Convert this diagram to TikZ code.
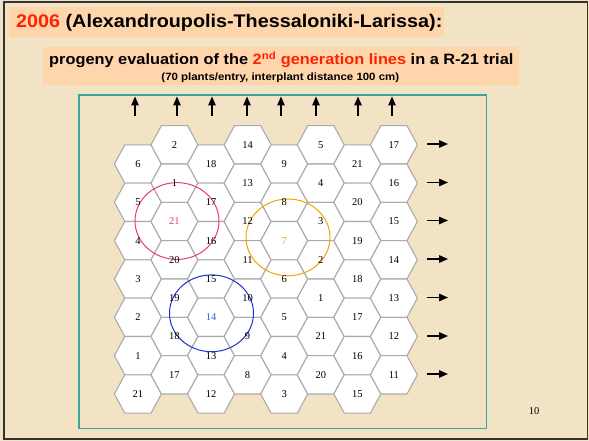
\documentclass[tikz,border=0pt]{standalone}
\usepackage{fontspec}
\setmainfont{Liberation Serif}
\newfontfamily\arialf{Liberation Sans}[FakeStretch=1.08]
\newfontfamily\arials{Liberation Sans}[FakeStretch=1.09]
\usetikzlibrary{arrows.meta}
\definecolor{bg}{HTML}{F3E3C5}
\definecolor{peach}{HTML}{FFD5AC}
\definecolor{titlered}{HTML}{FF2200}
\definecolor{tealc}{HTML}{3CA59B}
\definecolor{hexgray}{HTML}{ABABAB}
\definecolor{pinkc}{HTML}{EE3A78}
\definecolor{orangec}{HTML}{F7AA10}
\definecolor{orangec}{HTML}{F5A300}
\definecolor{bluec}{HTML}{1E2ED0}
\definecolor{bluet}{HTML}{3A5BE0}
\definecolor{framec}{HTML}{333333}
\begin{document}
\begin{tikzpicture}[x=1pt,y=-1pt,
  hexcell/.style={fill=white,draw=hexgray,line width=1.1pt,line join=miter},
  hexlab/.style={font=\fontsize{10.5}{12}\selectfont,inner sep=0pt},
  arr/.style={line width=1.4pt,-{Triangle[length=9pt,width=7.5pt]}},
  ring/.style={line width=1pt}]
\fill[bg] (0,0) rectangle (589,441);
\useasboundingbox (0,0) rectangle (589,441);
\draw[framec,line width=1.2pt] (4,2) rectangle (587.5,439);
% title
\fill[peach] (9.3,7.3) rectangle (444,36.7);
\node[anchor=base west,inner sep=0pt,font=\arialf\bfseries\fontsize{18.3}{21}\selectfont] (title) at (16,27.7)
  {\textcolor{titlered}{2006} (Alexandroupolis-Thessaloniki-Larissa):};
\fill[peach] (42.7,46.7) rectangle (519.3,85);
\node[anchor=base,inner sep=0pt,font=\arials\bfseries\fontsize{15}{18}\selectfont] (sub1) at (281.3,65)
  {progeny evaluation of the \textcolor{titlered}{2\textsuperscript{nd} generation lines} in a R-21 trial};
\node[anchor=base,inner sep=0pt,font=\arials\bfseries\fontsize{10.5}{12}\selectfont] (sub2) at (280.3,80.5)
  {(70 plants/entry, interplant distance 100 cm)};
% teal frame
\draw[tealc,line width=1.5pt] (79,95) rectangle (486.7,428.3);
% hexagons
\foreach \c in {1,...,8} {
  \foreach \r in {1,...,7} {
    \pgfmathsetmacro\hx{137.9+36.57*(\c-1)}
    \pgfmathsetmacro\hy{164+38.33*(\r-1)-19.17*(1-mod(\c,2))}
    \draw[hexcell,shift={(\hx,\hy)}] (-23.5,0) -- (-13.07,-19.17) -- (13.07,-19.17)
      -- (23.5,0) -- (13.07,19.17) -- (-13.07,19.17) -- cycle;
  }
}
% circles
\draw[ring,pinkc] (177,221) ellipse [x radius=42,y radius=38.4];
\draw[ring,orangec] (288,237.4) ellipse [x radius=42,y radius=38.4];
\draw[ring,bluec] (211.5,313.3) ellipse [x radius=42,y radius=38.4];
% labels
\foreach \c/\s in {1/6,2/2,3/18,4/14,5/9,6/5,7/21,8/17} {
  \foreach \r in {1,...,7} {
    \pgfmathsetmacro\hx{137.9+36.57*(\c-1)}
    \pgfmathsetmacro\hy{164+38.33*(\r-1)-19.17*(1-mod(\c,2))}
    \pgfmathtruncatemacro\lab{mod(\s-\r+21,21)+1}
    \def\labcol{black}
    \ifnum\c=2 \ifnum\r=3 \def\labcol{pinkc}\fi\fi
    \ifnum\c=5 \ifnum\r=3 \def\labcol{orangec}\fi\fi
    \ifnum\c=3 \ifnum\r=5 \def\labcol{bluet}\fi\fi
    \node[hexlab,text=\labcol] (h\c-\r) at (\hx,\hy) {\lab};
  }
}
% top arrows
\foreach \x [count=\i] in {135,177,212,247,281,316,358,392} {
  \coordinate (ut\i) at (\x,116);
  \coordinate (uh\i) at (\x,96.5);
  \draw[arr] (ut\i) -- (uh\i);
}
% right arrows
\foreach \y [count=\i] in {144,182.5,220.5,259,297.5,336,374} {
  \coordinate (rt\i) at (427,\y);
  \coordinate (rh\i) at (448,\y);
  \draw[arr] (rt\i) -- (rh\i);
}
\node[inner sep=0pt,font=\fontsize{10.5}{12}\selectfont] (pg) at (534,411) {10};
\end{tikzpicture}
\end{document}
